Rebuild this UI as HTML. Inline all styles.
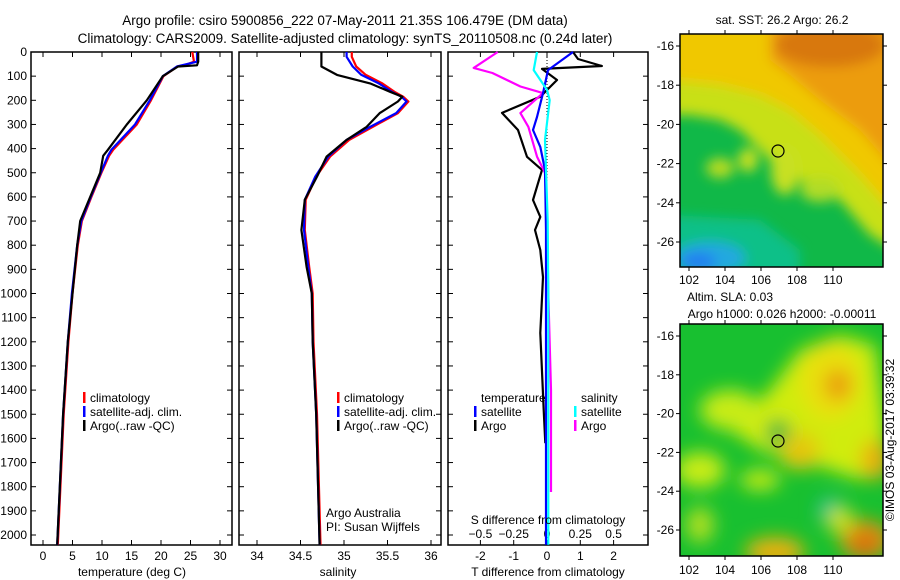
<!DOCTYPE html>
<html><head><meta charset="utf-8"><style>
body{margin:0;background:#fff;}
svg{display:block;font-family:"Liberation Sans",sans-serif;}
text{font-size:12px;fill:#000;}
</style></head><body>
<svg id="fig" width="900" height="580" viewBox="0 0 900 580">
<defs>
<filter id="bl1" x="-20%" y="-20%" width="140%" height="140%"><feGaussianBlur stdDeviation="6"/></filter>
<filter id="bl2" x="-30%" y="-30%" width="160%" height="160%"><feGaussianBlur stdDeviation="9"/></filter>
<clipPath id="c1"><rect x="680" y="34" width="203" height="233"/></clipPath>
<clipPath id="c2"><rect x="680" y="324" width="203" height="232"/></clipPath>
</defs>
<text x="345" y="25" text-anchor="middle" style="font-size:13.5px">Argo profile: csiro 5900856_222 07-May-2011 21.35S 106.479E (DM data)</text>
<text x="345" y="43" text-anchor="middle" style="font-size:13.5px">Climatology: CARS2009. Satellite-adjusted climatology: synTS_20110508.nc (0.24d later)</text>
<g id="plots"></g>

<!-- Map 1 SST -->
<g clip-path="url(#c1)">
<rect x="680" y="34" width="203" height="233" fill="#10b848"/>
<g filter="url(#bl1)">
<polygon points="670,20 895,20 895,250 870,235 840,200 800,180 780,170 760,150 740,130 720,120 690,115 670,115" fill="#c8e018"/>
<polygon points="670,20 895,20 895,215 860,175 820,135 790,110 760,95 720,85 670,80" fill="#f0c800"/>
<polygon points="770,20 895,20 895,170 860,130 820,100 790,75 770,60" fill="#ec9c10"/>
<ellipse cx="830" cy="45" rx="55" ry="22" fill="#d87808"/>
<ellipse cx="720" cy="168" rx="14" ry="10" fill="#b8dc20"/>
<ellipse cx="748" cy="160" rx="10" ry="12" fill="#c8e020"/>
<ellipse cx="820" cy="190" rx="20" ry="12" fill="#b0dc28"/>
<ellipse cx="785" cy="170" rx="14" ry="25" fill="#c8e020"/>
<polygon points="670,215 760,220 800,250 800,280 670,280" fill="#10c088"/>
<ellipse cx="710" cy="258" rx="35" ry="16" fill="#20a8e0"/>
<ellipse cx="698" cy="262" rx="18" ry="10" fill="#2080f0"/>
</g>
</g>
<rect x="680" y="34" width="203" height="233" fill="none" stroke="#000" stroke-width="1.5"/>
<circle cx="778" cy="151" r="6" fill="none" stroke="#000" stroke-width="1.2"/>

<!-- Map 2 SLA -->
<g clip-path="url(#c2)">
<rect x="680" y="324" width="203" height="232" fill="#18c030"/>
<g filter="url(#bl2)">
<polygon points="740,420 770,390 800,350 840,335 875,345 885,420 885,470 860,480 830,470 800,460 760,450 730,430" fill="#d0ec10"/>
<ellipse cx="830" cy="380" rx="30" ry="40" fill="#e8e008"/>
<ellipse cx="838" cy="385" rx="14" ry="16" fill="#eaa010"/>
<ellipse cx="730" cy="410" rx="30" ry="20" fill="#c8ec18"/>
<ellipse cx="800" cy="450" rx="22" ry="20" fill="#e0d010"/>
<ellipse cx="800" cy="455" rx="10" ry="8" fill="#ecb810"/>
<ellipse cx="875" cy="460" rx="14" ry="20" fill="#eab010"/>
<ellipse cx="778" cy="432" rx="12" ry="12" fill="#10b040"/>
<ellipse cx="700" cy="470" rx="25" ry="18" fill="#c8ec18"/>
<ellipse cx="760" cy="480" rx="20" ry="10" fill="#c8ec18"/>
<ellipse cx="700" cy="525" rx="14" ry="18" fill="#b0e020"/>
<ellipse cx="775" cy="552" rx="30" ry="15" fill="#e8b010"/>
<ellipse cx="865" cy="540" rx="25" ry="20" fill="#e09010"/>
<ellipse cx="865" cy="545" rx="10" ry="10" fill="#d06010"/>
<ellipse cx="830" cy="510" rx="12" ry="12" fill="#10c0a0"/>
<ellipse cx="840" cy="520" rx="14" ry="14" fill="#c8e020"/>
</g>
</g>
<rect x="680" y="324" width="203" height="232" fill="none" stroke="#000" stroke-width="1.5"/>
<circle cx="778" cy="441" r="6" fill="none" stroke="#000" stroke-width="1.2"/>

<text x="782" y="24" text-anchor="middle">sat. SST: 26.2 Argo: 26.2</text>
<text x="730" y="301" text-anchor="middle">Altim. SLA: 0.03</text>
<text x="782" y="318" text-anchor="middle">Argo h1000: 0.026 h2000: -0.00011</text>
<text transform="translate(894,440) rotate(-90)" text-anchor="middle">©IMOS 03-Aug-2017 03:39:32</text>
<g id="maplabels"></g>
</svg>
<script>
// depths (m) shared by profile series
const tDepth = [0,40,55,60,100,200,300,405,430,500,600,700,800,1000,1200,1500,2040];
const tArgo  = [26.3,26.3,26.1,22.9,20.3,17.6,14.2,11.0,10.2,9.7,8.0,6.3,5.8,5.0,4.2,3.4,2.4];
const tSat   = [26.1,26.1,23.5,22.7,20.3,18.1,15.6,11.6,11.0,9.8,8.1,6.5,5.8,4.9,4.2,3.4,2.4];
const tClim  = [25.3,25.6,24.0,22.8,20.4,18.3,15.9,11.9,11.2,9.9,8.2,6.6,5.9,5.0,4.3,3.5,2.5];
const sDepth = [0,20,60,95,130,165,185,205,253,310,364,433,516,612,737,890,1000,1200,1500,2040];
const sArgo  = [34.74,34.74,34.74,34.92,35.30,35.53,35.67,35.62,35.41,35.26,35.03,34.80,34.69,34.55,34.51,34.57,34.63,34.64,34.68,34.72];
const sSat   = [35.03,35.03,35.10,35.20,35.40,35.55,35.66,35.72,35.60,35.30,35.03,34.82,34.67,34.55,34.54,34.59,34.63,34.64,34.68,34.72];
const sClim  = [35.09,35.09,35.14,35.25,35.44,35.58,35.68,35.74,35.62,35.33,35.06,34.84,34.68,34.56,34.55,34.60,34.64,34.65,34.69,34.73];
const dDepth = [0,29,58,70,116,185,252,323,434,488,613,683,737,820,932,1163,1482,1620];
const dTArgo = [0.78,0.93,1.65,-0.15,0.3,-0.2,-1.35,-0.87,-0.6,-0.15,-0.42,-0.2,-0.36,-0.2,-0.12,-0.2,-0.1,-0.05];
const eDepth = [0,75,170,269,323,393,488,737,1000,1500,2040];
const dTSat  = [0.78,0.03,-0.12,-0.3,-0.42,-0.2,-0.06,-0.03,-0.03,-0.03,-0.03];
const cDepth = [0,75,157,199,364,700,1000,1500,2040];
const dSSat  = [-0.075,-0.1,0,0.02,-0.015,0.005,0.01,0.01,0.01];
const mDepth = [0,66,87,143,170,253,310,433,500,700,1000,1400,1600,1822];
const dSArgo = [-0.37,-0.55,-0.41,-0.2,-0.03,-0.2,-0.14,-0.075,-0.015,0,0.01,0.03,0.03,0.03];
const depthTicks = [0,100,200,300,400,500,600,700,800,900,1000,1100,1200,1300,1400,1500,1600,1700,1800,1900,2000];
const tTicks = [0,5,10,15,20,25,30];
const sTicks = [34,34.5,35,35.5,36];
const dTTicks = [-2,-1,0,1,2];
const dSTicks = [-0.5,-0.25,0,0.25,0.5];
const latTicks = [-16,-18,-20,-22,-24,-26];
const lonTicks = [102,104,106,108,110];

const NS='http://www.w3.org/2000/svg';
const g=document.getElementById('plots');
const ml=document.getElementById('maplabels');
const yD=d=>52+d*0.2415;
const xT=v=>43+v*5.9;
const xS=v=>257+(v-34)*87;
const xDT=v=>547+v*33.3;
const xDS=v=>547+v*133.2;
function el(tag,attrs,parent){const e=document.createElementNS(NS,tag);for(const k in attrs)e.setAttribute(k,attrs[k]);(parent||g).appendChild(e);return e;}
function txt(x,y,s,anchor,parent){const t=el('text',{x:x,y:y,'text-anchor':anchor||'start'},parent);t.textContent=s;return t;}
function line(xs,ds,fx,color,w,name){
  let p='';for(let i=0;i<xs.length;i++){p+=(i?'L':'M')+fx(xs[i]).toFixed(1)+','+yD(ds[i]).toFixed(1);}
  const e=el('path',{d:p,fill:'none',stroke:color,'stroke-width':w,'stroke-linejoin':'round'});
  
  
}
const panels=[[31,232],[239,441],[448,648]];
panels.forEach((p,i)=>{
  const r=el('rect',{x:p[0],y:52,width:p[1]-p[0],height:493,fill:'none',stroke:'#000','stroke-width':1.5});
  
  
  depthTicks.forEach(d=>{
    el('line',{x1:p[0],x2:p[0]+5,y1:yD(d),y2:yD(d),stroke:'#000'});
    el('line',{x1:p[1]-5,x2:p[1],y1:yD(d),y2:yD(d),stroke:'#000'});
  });
});
depthTicks.forEach(d=>{const t=txt(27,yD(d)+4,String(d),'end');
  
  });
function xticks(ticks,fx,labels,ly){
  ticks.forEach((v,i)=>{const x=fx(v);
    el('line',{x1:x,x2:x,y1:52,y2:57,stroke:'#000'});el('line',{x1:x,x2:x,y1:540,y2:545,stroke:'#000'});
    if(ly){const t=txt(x,ly,labels[i],'middle');
      
      }
  });
}
xticks(tTicks,xT,tTicks.map(String),560);
xticks(sTicks,xS,sTicks.map(String),560);
xticks(dTTicks,xDT,dTTicks.map(String),560);
dSTicks.forEach(v=>{const t=txt(xDS(v),538,String(v).replace('-','\u2212'),'middle');
  
  });
el('line',{x1:547,x2:547,y1:57,y2:200,stroke:'#000','stroke-dasharray':'1,2'});

line(tClim,tDepth,xT,'#f00',2.2,'temp-climatology-line');
line(tSat,tDepth,xT,'#00f',2.2,'temp-satellite-line');
line(tArgo,tDepth,xT,'#000',2.2,'temp-argo-line');
line(sClim,sDepth,xS,'#f00',2.2,'sal-climatology-line');
line(sSat,sDepth,xS,'#00f',2.2,'sal-satellite-line');
line(sArgo,sDepth,xS,'#000',2.2,'sal-argo-line');
line(dTArgo,dDepth,xDT,'#000',2.2,'tdiff-argo-line');
line(dSArgo,mDepth,xDS,'#f0f',2.2,'sdiff-argo-line');
line(dTSat,eDepth,xDT,'#00f',2.2,'tdiff-satellite-line');
line(dSSat,cDepth,xDS,'#0ff',2.2,'sdiff-satellite-line');

function legend(x,y,items){
  items.forEach((it,i)=>{
    if(it[1]) el('rect',{x:x,y:y+i*14-10,width:2.5,height:11,fill:it[1]});
    const t=txt(x+7,y+i*14,it[0]);
    
    
  });
}
legend(83,402,[['climatology','#f00'],['satellite-adj. clim.','#00f'],['Argo(..raw -QC)','#000']]);
legend(337,402,[['climatology','#f00'],['satellite-adj. clim.','#00f'],['Argo(..raw -QC)','#000']]);
legend(474,402,[['temperature',null],['satellite','#00f'],['Argo','#000']]);
legend(574,402,[['salinity',null],['satellite','#0ff'],['Argo','#f0f']]);
txt(326,517,'Argo Australia');txt(326,531,'PI: Susan Wijffels');
txt(548,524,'S difference from climatology','middle');
let t;
t=txt(132,576,'temperature (deg C)','middle');
t=txt(338,576,'salinity','middle');
t=txt(548,576,'T difference from climatology','middle');

const yLat1=v=>46+(-16-v)*19.6;
const yLat2=v=>336+(-16-v)*19.4;
const xLon=v=>689+(v-102)*18;
[[yLat1,34,267,284],[yLat2,324,556,574]].forEach(m=>{
  latTicks.forEach(v=>{const y=m[0](v);
    el('line',{x1:676,x2:680,y1:y,y2:y,stroke:'#000'},ml);el('line',{x1:883,x2:887,y1:y,y2:y,stroke:'#000'},ml);
    const l=txt(674,y+4,String(v),'end',ml);
    
    });
  lonTicks.forEach(v=>{const x=xLon(v);
    el('line',{x1:x,x2:x,y1:m[1]-4,y2:m[1],stroke:'#000'},ml);el('line',{x1:x,x2:x,y1:m[2],y2:m[2]+4,stroke:'#000'},ml);
    const l=txt(x,m[3],String(v),'middle',ml);
    
    });
});
</script>
</body></html>
